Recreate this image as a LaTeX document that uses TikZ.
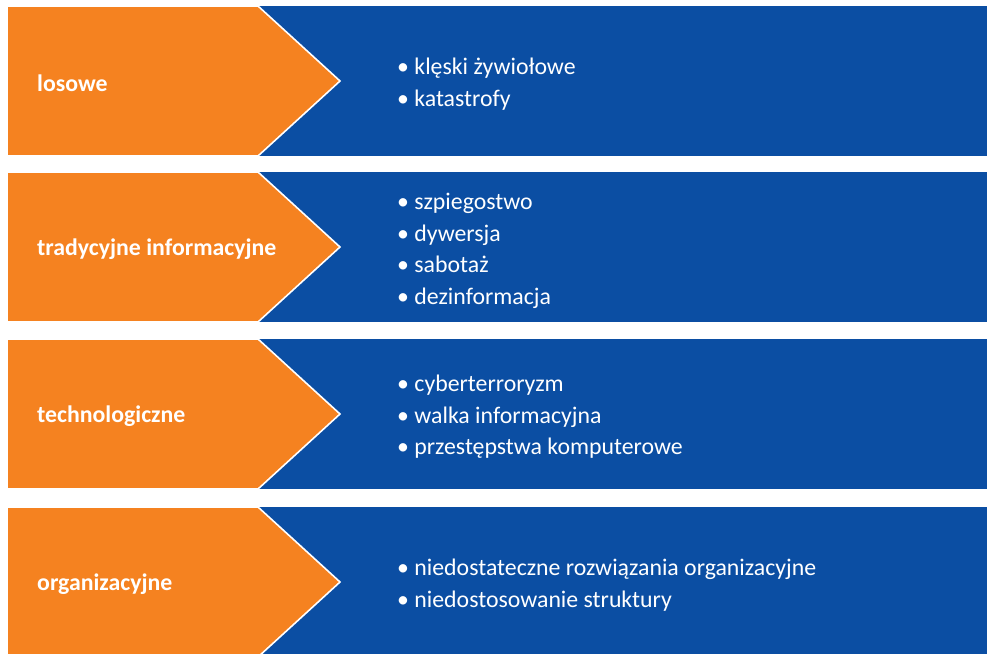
\documentclass[tikz,border=0pt]{standalone}
\usepackage{fontspec}
\setmainfont{Carlito}
\usetikzlibrary{positioning,calc}
\definecolor{orangefill}{HTML}{F58220}
\definecolor{bluefill}{HTML}{0B4EA3}
\tikzset{
  band/.style={fill=bluefill},
  chevron/.style={fill=orangefill,draw=white,line width=1.6pt,line join=miter},
  headtext/.style={text=white,font=\bfseries\fontsize{23.8}{28}\selectfont,anchor=west,inner sep=0pt},
  itemtext/.style={text=white,font=\fontsize{23.8}{31.6}\selectfont,align=left,anchor=west,inner sep=0pt}
}
\begin{document}
\begin{tikzpicture}[x=1pt,y=-1pt]
  \useasboundingbox (0,0) rectangle (987,653);
  \clip (0,0) rectangle (987,653);
  % four rows: blue band with an orange chevron in front
  \foreach \y/\n in {6/a,172/b,339/c,507/d}{
    \fill[band] (258,\y) rectangle (990,\y+150);
    \draw[chevron] (7,\y) -- (258,\y) -- (340,\y+75) -- (258,\y+150) -- (7,\y+150) -- cycle;
    \coordinate (mid\n) at (7,\y+77);
  }
  \node[headtext,right=30pt of mida] (losowe) {losowe};
  \node[headtext,right=30pt of midb] (tradycyjne) {tradycyjne informacyjne};
  \node[headtext,right=30pt of midc] (technologiczne) {technologiczne};
  \node[headtext,right=30pt of midd] (organizacyjne) {organizacyjne};
  \node[itemtext] (losoweitems) at (397,84) {• klęski żywiołowe\\• katastrofy};
  \node[itemtext] (tradycyjneitems) at (397,251) {• szpiegostwo\\• dywersja\\• sabotaż\\• dezinformacja};
  \node[itemtext] (technologiczneitems) at (397,417) {• cyberterroryzm\\• walka informacyjna\\• przestępstwa komputerowe};
  \node[itemtext] (organizacyjneitems) at (397,585) {• niedostateczne rozwiązania organizacyjne\\• niedostosowanie struktury};
\end{tikzpicture}
\end{document}
